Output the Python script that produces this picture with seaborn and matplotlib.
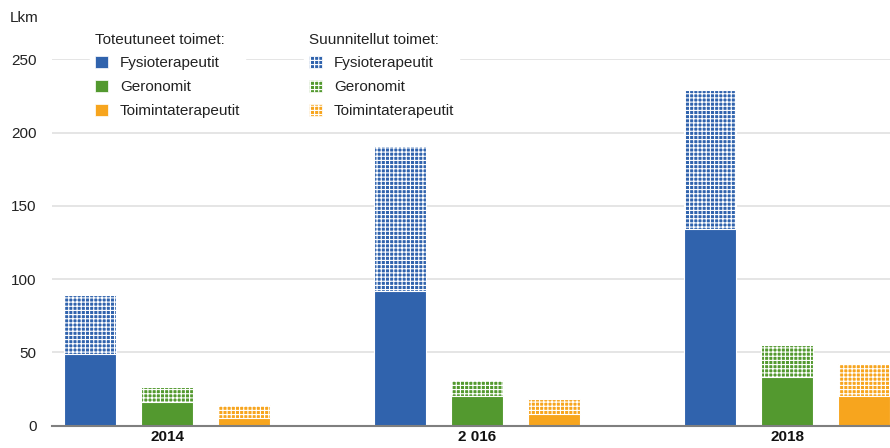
import matplotlib
matplotlib.use("Agg")
import matplotlib.pyplot as plt
from matplotlib.patches import Patch
import seaborn as sns
import pandas as pd

years = ["2014", "2 016", "2018"]
professions = ["Fysioterapeutit", "Geronomit", "Toimintaterapeutit"]
actual_fysio = [49, 92, 134]
actual_geron = [16, 20, 33]
actual_toim = [5, 8, 20]
planned_fysio = [40, 99, 95]
planned_geron = [10, 11, 22]
planned_toim = [9, 10, 22]
colors = ["#3063AD", "#53992F", "#F7A51E"]
yticks = [0, 50, 100, 150, 200, 250]

rows = []
for prof, act, plan in zip(professions,
                           [actual_fysio, actual_geron, actual_toim],
                           [planned_fysio, planned_geron, planned_toim]):
    for y, a, p in zip(years, act, plan):
        rows.append({"year": y, "prof": prof, "actual": a, "total": a + p})
df = pd.DataFrame(rows)

sns.set_theme(style="white")
plt.rcParams["font.family"] = ["Liberation Sans", "DejaVu Sans"]
plt.rcParams["hatch.linewidth"] = 0.8

fig = plt.figure(figsize=(8.9, 4.48), dpi=100)
ax = fig.add_axes([52 / 890, 22.5 / 448, 1 - 52 / 890, 366 / 448])

pal = dict(zip(professions, colors))
sns.barplot(data=df, x="year", y="total", hue="prof", order=years,
            hue_order=professions, palette=pal, saturation=1, width=0.745,
            gap=0.335, hatch="++++", edgecolor="white", linewidth=0.8,
            legend=False, ax=ax, zorder=2)
sns.barplot(data=df, x="year", y="actual", hue="prof", order=years,
            hue_order=professions, palette=pal, saturation=1, width=0.745,
            gap=0.335, edgecolor="white", linewidth=0.8, legend=False,
            ax=ax, zorder=3)

ax.set_xlim(-0.371, 2.332)
ax.set_ylim(0, 250)
ax.set_yticks(yticks)
ax.set_xlabel("")
ax.set_ylabel("")
ax.grid(axis="y", color="#E0E0E0", linewidth=1.2, zorder=0)
ax.set_axisbelow(True)
for s in ["left", "right", "top"]:
    ax.spines[s].set_visible(False)
ax.spines["bottom"].set_color("#7F7F7F")
ax.spines["bottom"].set_linewidth(1.5)
ax.spines["bottom"].set_zorder(5)
ax.tick_params(axis="y", length=0, pad=11, labelsize=11, labelcolor="#222222")
ax.tick_params(axis="x", length=0, pad=3, labelsize=11, labelcolor="#111111")
for lbl in ax.get_xticklabels():
    lbl.set_fontweight("bold")

fig.text(10 / 890, 1 - 18 / 448, "Lkm", fontsize=11, color="#222222",
         va="center", ha="left")

h1 = [Patch(facecolor=c, edgecolor="white", linewidth=0.5) for c in colors]
h2 = [Patch(facecolor=c, edgecolor="white", linewidth=0.5, hatch="++++") for c in colors]

common = dict(fontsize=11, title_fontsize=11, frameon=True, framealpha=1,
              edgecolor="white", facecolor="white", handlelength=0.85,
              handleheight=0.85, handletextpad=0.8, labelspacing=0.62,
              borderpad=0.3, loc="upper left", alignment="left",
              fancybox=False, borderaxespad=0)
leg1 = fig.legend(h1, professions, title="Toteutuneet toimet:",
                  bbox_to_anchor=(90 / 890, 1 - 28 / 448), **common)
leg2 = fig.legend(h2, professions, title="Suunnitellut toimet:",
                  bbox_to_anchor=(304 / 890, 1 - 28 / 448), **common)
for leg in (leg1, leg2):
    leg.get_title().set_color("#222222")
    for t in leg.get_texts():
        t.set_color("#222222")

fig.savefig("out.png", dpi=100)
